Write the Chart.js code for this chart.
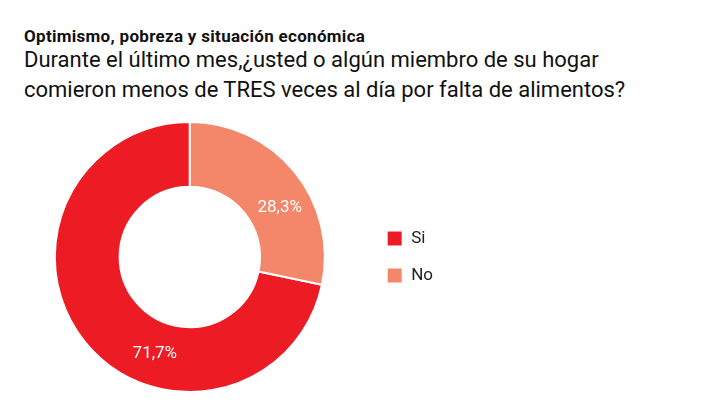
<!DOCTYPE html>
<html><head><meta charset="utf-8">
<script src="https://cdn.jsdelivr.net/npm/chart.js@4"></script>
<style>
body{margin:0;width:720px;height:405px;background:#fff;font-family:Roboto,"Open Sans",sans-serif;position:relative;overflow:hidden}
#t1{position:absolute;left:24px;top:26px;font-size:17px;font-weight:bold;color:#111;letter-spacing:0.3px}
#t2{position:absolute;left:24px;top:45px;font-size:22px;color:#111;line-height:30px}
#wrap{position:absolute;left:13px;top:112px;width:430px;height:290px}
</style></head><body>
<div id="t1">Optimismo, pobreza y situación económica</div>
<div id="t2">Durante el último mes,¿usted o algún miembro de su hogar<br>comieron menos de TRES veces al día por falta de alimentos?</div>
<div id="wrap"><canvas id="c"></canvas></div>
<script>
const categories=["Si","No"];
const values=[71.7,28.3];
const colors=["#ED1C24","#F4876A"];
const labelPos=[0.38,0.6];
const lbl={id:'lbl',afterDatasetsDraw(ch){const ctx=ch.ctx;ch.getDatasetMeta(0).data.forEach((a,i)=>{
const ang=a.startAngle+(a.endAngle-a.startAngle)*labelPos[i];const r=(a.innerRadius+a.outerRadius)/2;
ctx.save();ctx.fillStyle='#fff';ctx.font='17px Roboto';ctx.textAlign='center';ctx.textBaseline='middle';
ctx.fillText(values[i].toFixed(1).replace('.',',')+'%',a.x+r*Math.cos(ang),a.y+r*Math.sin(ang));ctx.restore();});}};
new Chart(document.getElementById('c'),{type:'doughnut',
data:{labels:categories,datasets:[{data:values,backgroundColor:colors,borderColor:'#fff',borderWidth:2}]},
options:{responsive:true,maintainAspectRatio:false,animation:false,cutout:'52%',rotation:101.88,
layout:{padding:{top:9,bottom:9}},
plugins:{tooltip:{enabled:false},legend:{position:'right',labels:{boxWidth:16,boxHeight:16,padding:20,font:{size:17,family:'Roboto'},color:'#222'}}}},
plugins:[lbl]});
</script></body></html>
